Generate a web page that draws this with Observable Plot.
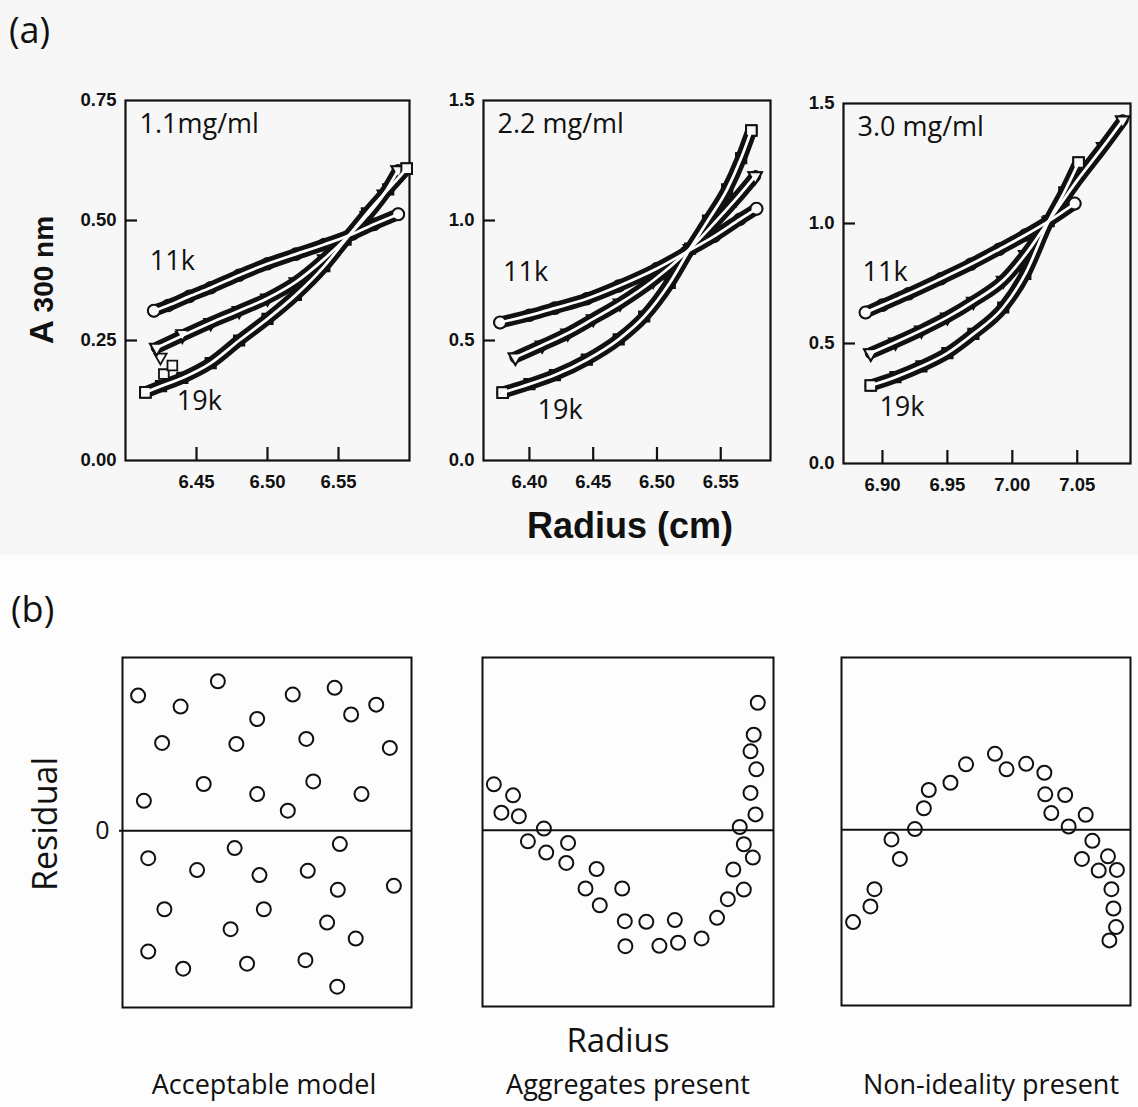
<!DOCTYPE html>
<html>
<head>
<meta charset="utf-8">
<script src="https://cdn.jsdelivr.net/npm/d3@7"></script>
<script src="https://cdn.jsdelivr.net/npm/@observablehq/plot@0.6"></script>
<style>
  body { margin: 0; background: #fdfdfd; }
  #fig { position: relative; width: 1138px; height: 1107px; overflow: hidden; background: #fdfdfd; }
  #topband { position: absolute; left: 0; top: 0; width: 1138px; height: 555px; background: #f7f7f7; }
  #fig svg { position: absolute; }
</style>
</head>
<body>
<div id="fig"><div id="topband"></div></div>
<script>
// ---------- (a) sedimentation equilibrium scans: radius (cm) vs A300 ----------
const speeds = ["11k", "15k", "19k"];

// 1.1 mg/ml
const p1Radius11k = [6.420, 6.430, 6.445, 6.460, 6.480, 6.500, 6.520, 6.540, 6.560, 6.575, 6.592];
const p1Abs11k    = [0.312, 0.323, 0.342, 0.360, 0.386, 0.410, 0.430, 0.450, 0.472, 0.492, 0.513];
const p1Radius15k = [6.422, 6.440, 6.460, 6.480, 6.500, 6.520, 6.540, 6.555, 6.570, 6.582, 6.592];
const p1Abs15k    = [0.235, 0.260, 0.287, 0.312, 0.338, 0.372, 0.420, 0.462, 0.510, 0.555, 0.605];
const p1Radius19k = [6.414, 6.425, 6.440, 6.460, 6.480, 6.500, 6.520, 6.540, 6.555, 6.570, 6.585, 6.598];
const p1Abs19k    = [0.142, 0.155, 0.172, 0.203, 0.250, 0.295, 0.345, 0.405, 0.460, 0.515, 0.565, 0.608];
// stray early readings near the meniscus
const p1StrayRadius15k = [6.4246, 6.440];
const p1StrayAbs15k    = [0.215, 0.264];
const p1StrayRadius19k = [6.427, 6.433];
const p1StrayAbs19k    = [0.180, 0.198];

// 2.2 mg/ml
const p2Radius11k = [6.377, 6.400, 6.420, 6.445, 6.470, 6.500, 6.523, 6.545, 6.565, 6.578];
const p2Abs11k    = [0.575, 0.605, 0.635, 0.674, 0.727, 0.800, 0.868, 0.935, 1.005, 1.049];
const p2Radius15k = [6.389, 6.410, 6.430, 6.450, 6.471, 6.497, 6.526, 6.545, 6.562, 6.577];
const p2Abs15k    = [0.430, 0.480, 0.530, 0.590, 0.655, 0.750, 0.883, 0.990, 1.090, 1.185];
const p2Radius19k = [6.379, 6.400, 6.420, 6.445, 6.470, 6.490, 6.510, 6.526, 6.540, 6.555, 6.566, 6.574];
const p2Abs19k    = [0.283, 0.318, 0.356, 0.420, 0.505, 0.600, 0.740, 0.883, 1.000, 1.130, 1.260, 1.375];

// 3.0 mg/ml
const p3Radius11k = [6.887, 6.900, 6.920, 6.945, 6.968, 6.990, 7.010, 7.028, 7.048];
const p3Abs11k    = [0.629, 0.660, 0.707, 0.770, 0.830, 0.893, 0.952, 1.010, 1.083];
const p3Radius15k = [6.891, 6.910, 6.930, 6.950, 6.970, 6.993, 7.010, 7.028, 7.050, 7.070, 7.085];
const p3Abs15k    = [0.460, 0.505, 0.555, 0.610, 0.675, 0.763, 0.870, 1.010, 1.180, 1.320, 1.430];
const p3Radius19k = [6.891, 6.910, 6.930, 6.950, 6.970, 6.993, 7.010, 7.028, 7.040, 7.051];
const p3Abs19k    = [0.325, 0.360, 0.405, 0.460, 0.540, 0.650, 0.790, 1.010, 1.130, 1.254];

const concLabels = ["1.1mg/ml", "2.2 mg/ml", "3.0 mg/ml"];
const p1XTicks = [6.45, 6.50, 6.55];
const p2XTicks = [6.40, 6.45, 6.50, 6.55];
const p3XTicks = [6.90, 6.95, 7.00, 7.05];
const p1YTicks = [0, 0.25, 0.50, 0.75];
const p23YTicks = [0, 0.5, 1.0, 1.5];
// where the speed labels sit, in data units (radius, absorbance)
const p1SpeedLabelPos = [[6.433, 0.415], [6.452, 0.123]];
const p2SpeedLabelPos = [[6.397, 0.783], [6.424, 0.208]];
const p3SpeedLabelPos = [[6.902, 0.796], [6.915, 0.233]];

// ---------- (b) schematic residual patterns ----------
const acceptX = [0.054,0.201,0.330,0.589,0.734,0.791,0.878,0.466,0.137,0.394,0.636,0.925,0.281,0.074,0.466,0.660,0.572,0.827,
                 0.089,0.388,0.752,0.258,0.474,0.641,0.745,0.939,0.145,0.489,0.374,0.708,0.807,0.089,0.210,0.431,0.633,0.743];
const acceptR = [0.780,0.717,0.863,0.786,0.825,0.671,0.728,0.645,0.507,0.501,0.530,0.478,0.270,0.173,0.212,0.285,0.116,0.212,
                 -0.158,-0.100,-0.077,-0.227,-0.256,-0.231,-0.341,-0.318,-0.453,-0.453,-0.568,-0.530,-0.622,-0.697,-0.796,-0.767,-0.747,-0.900];
const aggX = [0.039,0.105,0.065,0.125,0.211,0.156,0.219,0.294,0.288,0.392,0.354,0.403,0.480,0.489,0.563,0.661,0.491,
              0.608,0.672,0.753,0.806,0.843,0.898,0.862,0.929,0.898,0.884,0.938,0.921,0.941,0.921,0.932,0.946];
const aggR = [0.266,0.202,0.102,0.081,0.010,-0.064,-0.129,-0.073,-0.189,-0.224,-0.337,-0.434,-0.337,-0.526,-0.530,-0.520,-0.671,
              -0.669,-0.651,-0.626,-0.507,-0.399,-0.343,-0.227,-0.158,-0.081,0.019,0.092,0.216,0.353,0.457,0.553,0.738];
const nonX = [0.040,0.100,0.114,0.202,0.173,0.254,0.285,0.302,0.377,0.431,0.531,0.571,0.639,0.702,
              0.705,0.774,0.726,0.845,0.786,0.868,0.832,0.890,0.922,0.953,0.934,0.941,0.950,0.927];
const nonR = [-0.536,-0.445,-0.345,-0.169,-0.056,0.004,0.125,0.231,0.273,0.380,0.441,0.351,0.383,0.331,
              0.206,0.202,0.097,0.087,0.019,-0.064,-0.169,-0.237,-0.154,-0.233,-0.345,-0.457,-0.565,-0.642];
const residualCaptions = ["Acceptable model", "Aggregates present", "Non-ideality present"];

// ---------- drawing ----------
const fig = document.getElementById("fig");
const ink = "#111";
const SANS = "'Open Sans', 'Noto Sans', sans-serif";
const ARIAL = "'Liberation Sans', Arial, sans-serif";

// open downward triangle
const triangleDown = {
  draw(context, size) {
    const r = Math.sqrt(size / Math.PI) * 1.3;
    context.moveTo(-r * 0.866, -r * 0.5);
    context.lineTo(r * 0.866, -r * 0.5);
    context.lineTo(0, r);
    context.closePath();
  }
};
const symbols = {"11k": "circle", "15k": triangleDown, "19k": "square"};

const zip = (xs, ys, speed) => xs.map((x, i) => ({r: x, a: ys[i], speed}));

function place(svg, left, top) {
  svg.style.left = left + "px";
  svg.style.top = top + "px";
  fig.appendChild(svg);
}

function scanPanel({frame, xDomain, yDomain, xTicks, yTicks, yFormat, series, strays, conc, speedPos}) {
  const [L, T, R, B] = frame;
  const mL = 72, mT = 14, mR = 14, mB = 44;
  const fw = R - L, fh = B - T;
  const marks = [
    Plot.frame({stroke: ink, strokeWidth: 2.2}),
    Plot.axisY(yTicks, {tickSize: 0, tickPadding: 9, tickFormat: d3.format(yFormat), fontSize: 18.5, fontWeight: "bold", fontFamily: ARIAL, label: null, fill: ink}),
    Plot.tickY(yTicks.slice(1, -1), {y: d => d, insetRight: fw - 12, stroke: ink, strokeWidth: 2.2}),
    Plot.axisX(xTicks, {tickSize: 0, tickPadding: 14, tickFormat: d3.format(".2f"), fontSize: 18.5, fontWeight: "bold", fontFamily: ARIAL, label: null, fill: ink}),
    Plot.tickX(xTicks, {x: d => d, insetTop: fh - 13, stroke: ink, strokeWidth: 2.2})
  ];
  // dense data bands
  for (const s of series) {
    marks.push(Plot.line(s, {x: "r", y: "a", stroke: ink, strokeWidth: 12, strokeLinecap: "round", strokeLinejoin: "round", curve: "monotone-x"}));
    marks.push(Plot.dot(s, {x: "r", y: "a", symbol: symbols[s[0].speed], r: 6, stroke: ink, strokeWidth: 1.6, fill: ink}));
  }
  for (const s of strays) {
    marks.push(Plot.dot(s, {x: "r", y: "a", symbol: symbols[s[0].speed], r: 5.5, stroke: ink, strokeWidth: 1.8, fill: "#f7f7f7"}));
  }
  // open end markers
  for (const s of series) {
    marks.push(Plot.dot([s[0], s[s.length - 1]], {x: "r", y: "a", symbol: symbols[s[0].speed], r: 6, stroke: ink, strokeWidth: 2, fill: "#f7f7f7"}));
  }
  // fitted curves (white) through the scans
  for (const s of series) {
    marks.push(Plot.line(s, {x: "r", y: "a", stroke: "white", strokeWidth: 2.8, curve: "monotone-x"}));
  }
  marks.push(Plot.text([conc], {frameAnchor: "top-left", dx: 14, dy: 13, text: d => d, textAnchor: "start", lineAnchor: "top", fontSize: 27, fontFamily: SANS, fill: ink}));
  marks.push(Plot.text([speeds[0], speeds[2]], {x: (d, i) => speedPos[i][0], y: (d, i) => speedPos[i][1], text: d => d, fontSize: 27, fontFamily: SANS, fill: ink}));
  const svg = Plot.plot({
    width: fw + mL + mR, height: fh + mT + mB,
    marginLeft: mL, marginRight: mR, marginTop: mT, marginBottom: mB,
    style: {background: "transparent", overflow: "visible"},
    x: {domain: xDomain}, y: {domain: yDomain},
    marks
  });
  place(svg, L - mL, T - mT);
}

scanPanel({
  frame: [125, 100, 409, 460], xDomain: [6.40, 6.60], yDomain: [0, 0.75],
  xTicks: p1XTicks, yTicks: p1YTicks, yFormat: ".2f",
  series: [zip(p1Radius11k, p1Abs11k, "11k"), zip(p1Radius15k, p1Abs15k, "15k"), zip(p1Radius19k, p1Abs19k, "19k")],
  strays: [zip(p1StrayRadius15k, p1StrayAbs15k, "15k"), zip(p1StrayRadius19k, p1StrayAbs19k, "19k")],
  conc: concLabels[0], speedPos: p1SpeedLabelPos
});
scanPanel({
  frame: [483, 100, 770, 460], xDomain: [6.364, 6.589], yDomain: [0, 1.5],
  xTicks: p2XTicks, yTicks: p23YTicks, yFormat: ".1f",
  series: [zip(p2Radius11k, p2Abs11k, "11k"), zip(p2Radius15k, p2Abs15k, "15k"), zip(p2Radius19k, p2Abs19k, "19k")],
  strays: [], conc: concLabels[1], speedPos: p2SpeedLabelPos
});
scanPanel({
  frame: [843, 103, 1130, 463], xDomain: [6.870, 7.091], yDomain: [0, 1.5],
  xTicks: p3XTicks, yTicks: p23YTicks, yFormat: ".1f",
  series: [zip(p3Radius11k, p3Abs11k, "11k"), zip(p3Radius15k, p3Abs15k, "15k"), zip(p3Radius19k, p3Abs19k, "19k")],
  strays: [], conc: concLabels[2], speedPos: p3SpeedLabelPos
});

function residualPanel({frame, xs, rs, zeroLabel}) {
  const [L, T, R, B] = frame;
  const mL = 40, mT = 4, mR = 4, mB = 4;
  const pts = xs.map((x, i) => ({x, r: rs[i]}));
  const marks = [
    Plot.frame({stroke: ink, strokeWidth: 2}),
    Plot.ruleY([0], {stroke: ink, strokeWidth: 2}),
    Plot.dot(pts, {x: "x", y: "r", r: 7, stroke: ink, strokeWidth: 2, fill: "none"})
  ];
  if (zeroLabel) marks.push(Plot.axisY([0], {tickSize: 3, tickPadding: 10, tickFormat: d => String(d), fontSize: 25, fontFamily: SANS, label: null, stroke: ink, strokeWidth: 2, fill: ink}));
  const svg = Plot.plot({
    width: (R - L) + mL + mR, height: (B - T) + mT + mB,
    marginLeft: mL, marginRight: mR, marginTop: mT, marginBottom: mB,
    style: {background: "transparent", overflow: "visible"},
    x: {domain: [0, 1], axis: null}, y: {domain: [-1.02, 1], axis: zeroLabel ? undefined : null},
    marks
  });
  place(svg, L - mL, T - mT);
}
residualPanel({frame: [122, 657, 411, 1007], xs: acceptX, rs: acceptR, zeroLabel: true});
residualPanel({frame: [482, 657, 773, 1006], xs: aggX, rs: aggR, zeroLabel: false});
residualPanel({frame: [841, 657, 1130, 1005], xs: nonX, rs: nonR, zeroLabel: false});

// ---------- shared titles and captions ----------
const overlay = d3.create("svg").attr("width", 1138).attr("height", 1107)
  .style("left", "0px").style("top", "0px").style("pointer-events", "none");
const t = (x, y, txt, size, opts = {}) => overlay.append("text")
  .attr("x", x).attr("y", y).attr("font-size", size)
  .attr("font-family", opts.family || SANS).attr("font-weight", opts.weight || "normal")
  .attr("text-anchor", opts.anchor || "start").attr("fill", ink)
  .attr("transform", opts.rotate ? `rotate(-90, ${x}, ${y})` : null)
  .text(txt);

t(9, 43, "(a)", 36);
t(11, 622, "(b)", 36);
const yl = overlay.append("text").attr("transform", "translate(53,280) rotate(-90)")
  .attr("text-anchor", "middle").attr("font-family", ARIAL).attr("font-weight", "bold").attr("fill", ink);
yl.append("tspan").attr("font-size", 33).text("A");
yl.append("tspan").attr("font-size", 28).text(" 300 nm");
t(630, 538, "Radius (cm)", 36, {family: ARIAL, weight: "bold", anchor: "middle"});
t(57, 824, "Residual", 34, {anchor: "middle", rotate: true});
t(618, 1052, "Radius", 33, {anchor: "middle"});
t(264, 1094, residualCaptions[0], 27, {anchor: "middle"});
t(628, 1094, residualCaptions[1], 27, {anchor: "middle"});
t(991, 1094, residualCaptions[2], 27, {anchor: "middle"});
fig.appendChild(overlay.node());
</script>
</body>
</html>
